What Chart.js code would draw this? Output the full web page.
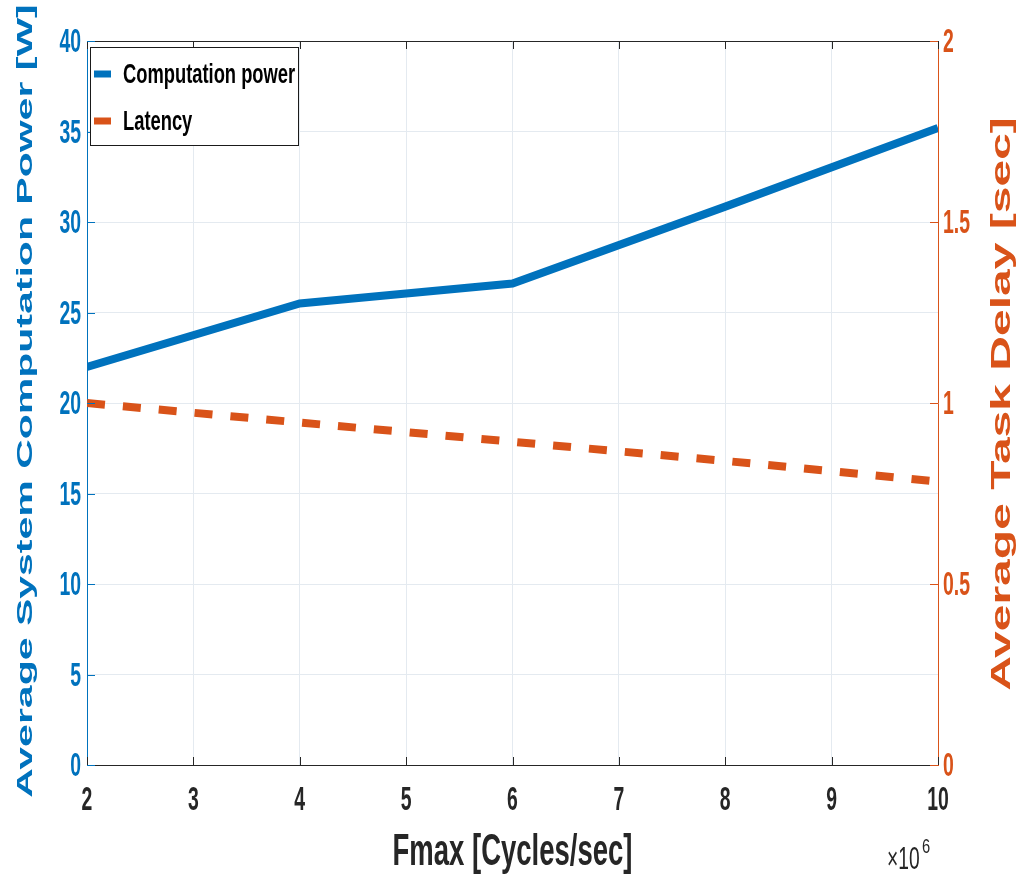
<!DOCTYPE html>
<html>
<head>
<meta charset="utf-8">
<script src="https://cdn.jsdelivr.net/npm/chart.js@4.4.0/dist/chart.umd.min.js"></script>
<style>
html, body { margin: 0; padding: 0; background: #fff; }
#chart { display: block; }
</style>
</head>
<body>
<canvas id="chart" width="1018" height="877"></canvas>
<script>
// values (x in units of 10^6 cycles/sec)
const fmaxValues = [2, 4, 6, 8, 10];
const computationPower = [22.0, 25.5, 26.6, 30.85, 35.2];
const latency = [1.0, 0.946, 0.893, 0.84, 0.783];
const seriesLabels = ['Computation power', 'Latency'];
const xTitle = 'Fmax [Cycles/sec]';
const leftTitle = 'Average System Computation Power [W]';
const rightTitle = 'Average Task Delay [sec]';
const xExponent = '6';

const BLUE = '#0072BD';
const ORANGE = '#D95319';
const DARK = '#262626';
const GRID = '#e4eaf0';
const FAMILY = "'Liberation Sans', Arial, sans-serif";
const TICK_FONT = 'bold 34px ' + FAMILY;
const SQUEEZE = 0.57;

// draws text squeezed horizontally (the figure was saved with a narrow aspect)
function squeezedText(ctx, text, x, y, opts) {
    ctx.save();
    ctx.translate(x, y);
    ctx.scale(opts.sx || 1, 1);
    if (opts.rotate) ctx.rotate(opts.rotate);
    ctx.font = opts.font;
    ctx.fillStyle = opts.color;
    ctx.textAlign = opts.align || 'left';
    ctx.textBaseline = opts.baseline || 'alphabetic';
    ctx.fillText(text, 0, 0);
    ctx.restore();
}

const matlabDecor = {
    id: 'matlabDecor',
    afterDraw(chart) {
        const ctx = chart.ctx;
        const area = chart.chartArea;
        const x = chart.scales.x;
        const yl = chart.scales.yPower;
        const yr = chart.scales.yDelay;

        ctx.save();
        // top box line
        ctx.strokeStyle = DARK;
        ctx.lineWidth = 1;
        ctx.beginPath();
        ctx.moveTo(area.left, Math.round(area.top) + 0.5);
        ctx.lineTo(area.right, Math.round(area.top) + 0.5);
        ctx.stroke();

        // inward tick marks + tick labels
        const len = 8;
        ctx.beginPath();
        x.ticks.forEach(t => {
            const px = Math.round(x.getPixelForValue(t.value)) + 0.5;
            ctx.moveTo(px, area.bottom);
            ctx.lineTo(px, area.bottom - len);
            ctx.moveTo(px, area.top);
            ctx.lineTo(px, area.top + len);
        });
        ctx.stroke();
        x.ticks.forEach(t => {
            squeezedText(ctx, String(t.value), x.getPixelForValue(t.value), 801, {
                font: TICK_FONT, color: DARK, sx: SQUEEZE, align: 'center', baseline: 'middle'
            });
        });

        ctx.strokeStyle = BLUE;
        ctx.beginPath();
        yl.ticks.forEach(t => {
            const py = Math.round(yl.getPixelForValue(t.value)) + 0.5;
            ctx.moveTo(area.left, py);
            ctx.lineTo(area.left + len, py);
        });
        ctx.stroke();
        yl.ticks.forEach(t => {
            squeezedText(ctx, String(t.value), area.left - 6, yl.getPixelForValue(t.value) + 2, {
                font: TICK_FONT, color: BLUE, sx: SQUEEZE, align: 'right', baseline: 'middle'
            });
        });

        ctx.strokeStyle = ORANGE;
        ctx.beginPath();
        yr.ticks.forEach(t => {
            const py = Math.round(yr.getPixelForValue(t.value)) + 0.5;
            ctx.moveTo(area.right, py);
            ctx.lineTo(area.right - len, py);
        });
        ctx.stroke();
        yr.ticks.forEach(t => {
            squeezedText(ctx, String(t.value), area.right + 5, yr.getPixelForValue(t.value) + 2, {
                font: TICK_FONT, color: ORANGE, sx: SQUEEZE, align: 'left', baseline: 'middle'
            });
        });

        // legend box
        const lx = 90.5, ly = 47.5, lw = 208, lh = 98;
        ctx.fillStyle = '#ffffff';
        ctx.fillRect(lx, ly, lw, lh);
        ctx.strokeStyle = '#1a1a1a';
        ctx.lineWidth = 1;
        ctx.strokeRect(lx, ly, lw, lh);

        const rowsY = [74, 121];
        chart.data.datasets.forEach((ds, i) => {
            ctx.strokeStyle = ds.borderColor;
            ctx.lineWidth = 7;
            ctx.beginPath();
            ctx.moveTo(94, rowsY[i]);
            ctx.lineTo(111, rowsY[i]);
            ctx.stroke();
            squeezedText(ctx, ds.label, 123, rowsY[i] + 1, {
                font: 'bold 28px ' + FAMILY,
                color: '#000000', sx: 0.655, baseline: 'middle'
            });
        });

        // axis titles
        squeezedText(ctx, xTitle, (area.left + area.right) / 2, 853, {
            font: 'bold 44px ' + FAMILY,
            color: DARK, sx: 0.625, align: 'center', baseline: 'middle'
        });
        squeezedText(ctx, leftTitle, 26, 401, {
            font: 'bold 41px ' + FAMILY,
            color: BLUE, sx: 0.56, align: 'center', baseline: 'middle', rotate: -Math.PI / 2
        });
        squeezedText(ctx, rightTitle, 1003, 404, {
            font: 'bold 48px ' + FAMILY,
            color: ORANGE, sx: 0.56, align: 'center', baseline: 'middle', rotate: -Math.PI / 2
        });

        // exponent label
        squeezedText(ctx, '\u00d710', 887, 869, {
            font: '31px ' + FAMILY,
            color: DARK, sx: 0.62
        });
        squeezedText(ctx, xExponent, 922, 853, {
            font: '21px ' + FAMILY,
            color: DARK, sx: 0.7
        });
        ctx.restore();
    }
};

const ctx = document.getElementById('chart').getContext('2d');

new Chart(ctx, {
    type: 'line',
    data: {
        datasets: [
            {
                label: seriesLabels[0],
                data: fmaxValues.map((v, i) => ({ x: v, y: computationPower[i] })),
                yAxisID: 'yPower',
                borderColor: BLUE,
                borderWidth: 8,
                pointRadius: 0,
                tension: 0,
                fill: false
            },
            {
                label: seriesLabels[1],
                data: fmaxValues.map((v, i) => ({ x: v, y: latency[i] })),
                yAxisID: 'yDelay',
                borderColor: ORANGE,
                borderWidth: 8,
                borderDash: [18, 18],
                borderCapStyle: 'butt',
                pointRadius: 0,
                tension: 0,
                fill: false
            }
        ]
    },
    options: {
        responsive: false,
        animation: false,
        devicePixelRatio: 1,
        layout: {
            padding: { top: 41, left: 0, right: 0, bottom: 0 }
        },
        plugins: {
            legend: { display: false },
            tooltip: { enabled: false }
        },
        scales: {
            x: {
                type: 'linear',
                min: 2,
                max: 10,
                ticks: { stepSize: 1, display: false },
                grid: { color: GRID, drawTicks: false },
                border: { color: DARK, width: 1 },
                afterFit: s => { s.height = 112; }
            },
            yPower: {
                position: 'left',
                min: 0,
                max: 40,
                ticks: { stepSize: 5, display: false },
                grid: { color: GRID, drawTicks: false },
                border: { color: BLUE, width: 1 },
                afterFit: s => { s.width = 87; }
            },
            yDelay: {
                position: 'right',
                min: 0,
                max: 2,
                ticks: { stepSize: 0.5, display: false },
                grid: { drawOnChartArea: false, drawTicks: false },
                border: { color: ORANGE, width: 1 },
                afterFit: s => { s.width = 80; }
            }
        }
    },
    plugins: [matlabDecor]
});
</script>
</body>
</html>
